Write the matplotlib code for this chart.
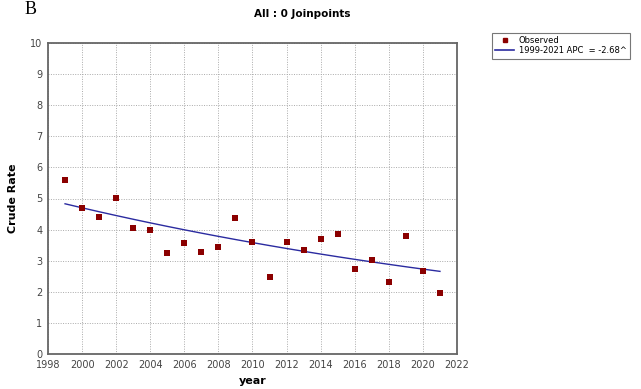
import numpy as np
import matplotlib
matplotlib.use("Agg")
import matplotlib.pyplot as plt
from matplotlib.lines import Line2D

# observed crude rates
years = [1999, 2000, 2001, 2002, 2003, 2004, 2005, 2006, 2007, 2008, 2009, 2010,
         2011, 2012, 2013, 2014, 2015, 2016, 2017, 2018, 2019, 2020, 2021]
rates = [5.59, 4.69, 4.41, 5.03, 4.06, 4.00, 3.25, 3.56, 3.28, 3.45, 4.37, 3.60,
         2.48, 3.61, 3.35, 3.71, 3.85, 2.73, 3.02, 2.32, 3.79, 2.67, 1.97]

# joinpoint model: single segment, APC -2.68%
fit_start = 4.83
apc = -2.68

yrs = np.array(years)
fitted = fit_start * (1 + apc / 100) ** (yrs - yrs[0])

fig = plt.figure(figsize=(6.41, 3.89), dpi=100, facecolor='white')
ax = fig.add_axes((48 / 641, 35 / 389, 409 / 641, 311 / 389))

ax.plot(yrs, fitted, color='#2b2ba0', lw=1.0, zorder=3)
ax.scatter(years, rates, marker='s', s=22, color='#8b0000', zorder=4, linewidths=0)

ax.set_xlim(1998, 2022)
ax.set_ylim(0, 10)
ax.set_xticks(range(1998, 2023, 2))
ax.set_yticks(range(0, 11))
ax.grid(True, color='#aaaaaa', linestyle=(0, (1, 1.5)), lw=0.7)
ax.set_axisbelow(True)
for s in ax.spines.values():
    s.set_color('#666666')
    s.set_linewidth(1.3)
ax.tick_params(length=0, labelsize=7, colors='#444444', pad=4)

ax.set_xlabel('year', fontsize=8, fontweight='bold', labelpad=5)
ax.set_ylabel('Crude Rate', fontsize=8, fontweight='bold', labelpad=9)

fig.text(302 / 641, 1 - 14 / 389, 'All : 0 Joinpoints', ha='center', va='center',
         fontsize=7.5, fontweight='bold')
fig.text(25 / 641, 1 - 1 / 389, 'B', ha='left', va='top', fontsize=13,
         family='Liberation Serif')

handles = [Line2D([], [], marker='s', color='#8b0000', ls='none', markersize=3.5),
           Line2D([], [], color='#2b2ba0', lw=1.2)]
labels = ['Observed', '1999-2021 APC  = -2.68^']
leg = fig.legend(handles, labels, loc='upper left', bbox_to_anchor=(492 / 641, 1 - 33 / 389),
                 fontsize=6, frameon=True, fancybox=False, borderpad=0.4,
                 handlelength=2.2, handletextpad=0.6, labelspacing=0.1, borderaxespad=0)
leg.get_frame().set_edgecolor('#555555')
leg.get_frame().set_linewidth(0.8)

fig.savefig('out.png', dpi=100, facecolor='white')
